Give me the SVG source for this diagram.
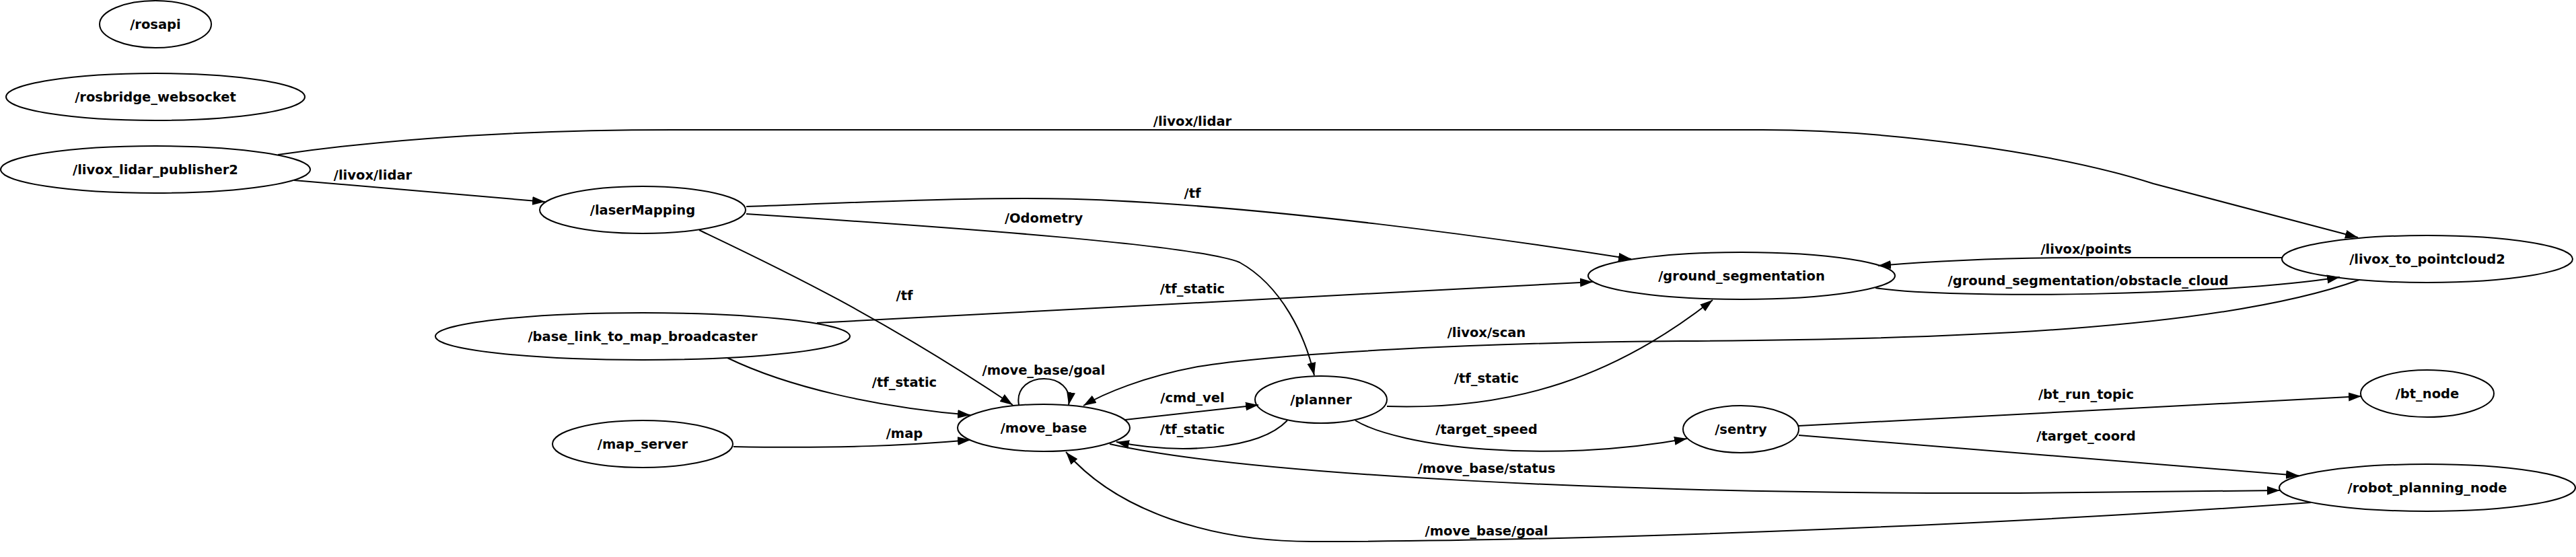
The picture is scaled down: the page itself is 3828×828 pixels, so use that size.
<svg xmlns="http://www.w3.org/2000/svg" width="3828" height="828" viewBox="0 0 3828 828">
<style>
  .n ellipse { fill: none; stroke: #000; stroke-width: 2; }
  text { font-family: "DejaVu Sans", "Liberation Sans", sans-serif; font-weight: bold; font-size: 19.5px; text-anchor: middle; fill: #000; }
  .e path { fill: none; stroke: #000; stroke-width: 2; marker-end: url(#arr); }
</style>
<defs>
  <marker id="arr" markerUnits="userSpaceOnUse" markerWidth="20" markerHeight="14" refX="19" refY="7" orient="auto" viewBox="0 0 20 14">
    <path d="M0,0.5 L19,7 L0,13.5 z" fill="#000"/>
  </marker>
</defs>
<rect width="3828" height="828" fill="#fff"/>

<g id="connectors" class="e">
  <path d="M437,268 L810,300"/>
  <path d="M413,230 C600,203 800,193 1000,193 L2619,193 C2800,193 3050,225 3200,273 L3504,353"/>
  <path d="M1109,307 C1300,300 1500,290 1650,298 C1900,310 2200,350 2424,385"/>
  <path d="M1109,318 C1450,340 1780,365 1842,390 C1905,425 1940,500 1953,558"/>
  <path d="M1039,342 C1150,395 1300,465 1505,602"/>
  <path d="M1214,480 L2367,419"/>
  <path d="M1081,532 C1170,575 1300,605 1442,617"/>
  <path d="M1090,664 C1250,667 1350,662 1442,654"/>
  <path d="M1514,602 C1505,550 1598,550 1588,602"/>
  <path d="M1672,624 L1870,602"/>
  <path d="M1913,625 C1870,670 1750,675 1659,657"/>
  <path d="M2061,604 C2250,610 2400,560 2545,446"/>
  <path d="M2014,625 C2080,665 2300,690 2507,652"/>
  <path d="M3391,383 L3100,383 C2950,383 2850,390 2791,395"/>
  <path d="M2787,428 C2900,445 3300,440 3477,412"/>
  <path d="M3506,416 C3300,490 2900,505 2500,507 C2200,509 1900,525 1780,545 C1700,560 1640,585 1610,603"/>
  <path d="M2673,633 L3509,589"/>
  <path d="M2673,647 L3416,707"/>
  <path d="M1649,660 C1850,705 2400,735 3000,733 L3388,729"/>
  <path d="M3434,747 C2900,785 2300,805 1950,805 C1800,805 1660,760 1584,672"/>
</g>

<g id="edge-labels">
  <text x="554" y="267">/livox/lidar</text>
  <text x="1772" y="187">/livox/lidar</text>
  <text x="1772" y="294">/tf</text>
  <text x="1551" y="331">/Odometry</text>
  <text x="1344" y="446">/tf</text>
  <text x="1772" y="436">/tf_static</text>
  <text x="1344" y="575">/tf_static</text>
  <text x="1344" y="651">/map</text>
  <text x="1551" y="557">/move_base/goal</text>
  <text x="1772" y="598">/cmd_vel</text>
  <text x="1772" y="645">/tf_static</text>
  <text x="2209" y="569">/tf_static</text>
  <text x="2209" y="645">/target_speed</text>
  <text x="3100" y="377">/livox/points</text>
  <text x="3103" y="424">/ground_segmentation/obstacle_cloud</text>
  <text x="2209" y="501">/livox/scan</text>
  <text x="3100" y="593">/bt_run_topic</text>
  <text x="3100" y="655">/target_coord</text>
  <text x="2209" y="703">/move_base/status</text>
  <text x="2209" y="796">/move_base/goal</text>
</g>

<g id="rosapi" class="n"><ellipse cx="231" cy="36" rx="83" ry="35"/><text x="231" y="43">/rosapi</text></g>
<g id="rosbridge_websocket" class="n"><ellipse cx="231" cy="144" rx="222" ry="35"/><text x="231" y="151">/rosbridge_websocket</text></g>
<g id="livox_lidar_publisher2" class="n"><ellipse cx="231" cy="252" rx="230" ry="35"/><text x="231" y="259">/livox_lidar_publisher2</text></g>
<g id="laserMapping" class="n"><ellipse cx="955" cy="312" rx="153" ry="35"/><text x="955" y="319">/laserMapping</text></g>
<g id="base_link_to_map_broadcaster" class="n"><ellipse cx="955" cy="500" rx="308" ry="35"/><text x="955" y="507">/base_link_to_map_broadcaster</text></g>
<g id="map_server" class="n"><ellipse cx="955" cy="660" rx="134" ry="35"/><text x="955" y="667">/map_server</text></g>
<g id="move_base" class="n"><ellipse cx="1551" cy="636" rx="128" ry="35"/><text x="1551" y="643">/move_base</text></g>
<g id="planner" class="n"><ellipse cx="1963" cy="594" rx="98" ry="35"/><text x="1963" y="601">/planner</text></g>
<g id="ground_segmentation" class="n"><ellipse cx="2588" cy="410" rx="228" ry="35"/><text x="2588" y="417">/ground_segmentation</text></g>
<g id="sentry" class="n"><ellipse cx="2587" cy="638" rx="86" ry="35"/><text x="2587" y="645">/sentry</text></g>
<g id="livox_to_pointcloud2" class="n"><ellipse cx="3607" cy="385" rx="216" ry="35"/><text x="3607" y="392">/livox_to_pointcloud2</text></g>
<g id="bt_node" class="n"><ellipse cx="3607" cy="585" rx="99" ry="35"/><text x="3607" y="592">/bt_node</text></g>
<g id="robot_planning_node" class="n"><ellipse cx="3607" cy="725" rx="220" ry="35"/><text x="3607" y="732">/robot_planning_node</text></g>
</svg>
